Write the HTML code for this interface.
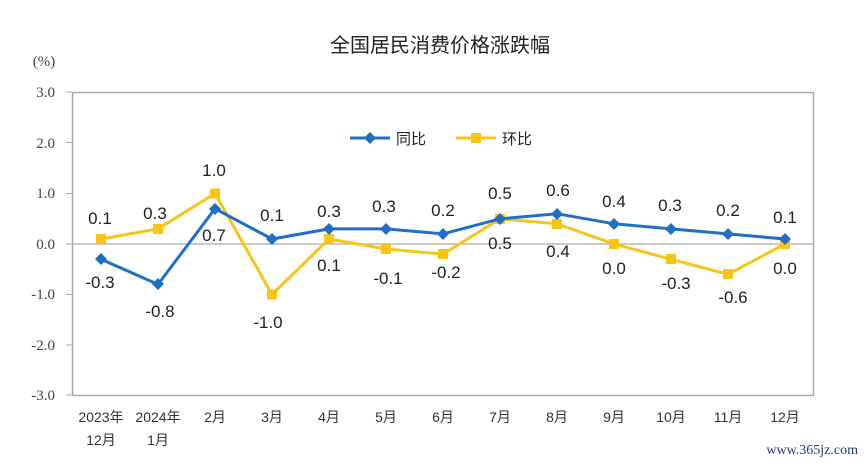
<!DOCTYPE html><html><head><meta charset="utf-8"><style>body{margin:0;background:#fff}svg{display:block}</style></head><body>
<svg width="864" height="466" xmlns="http://www.w3.org/2000/svg" font-family="Liberation Sans, Noto Sans CJK SC, sans-serif">
<text x="440" y="52" font-size="20" text-anchor="middle" fill="#222">全国居民消费价格涨跌幅</text>
<text x="44" y="66" font-size="15" font-family="Liberation Serif, serif" fill="#444" text-anchor="middle">(%)</text>
<g font-family="Liberation Serif, serif" font-size="15" fill="#444" text-anchor="end">
<text x="55" y="97">3.0</text><text x="55" y="148">2.0</text><text x="55" y="198">1.0</text><text x="55" y="249">0.0</text><text x="55" y="299">-1.0</text><text x="55" y="350">-2.0</text><text x="55" y="400">-3.0</text></g>
<g stroke="#aaa" stroke-width="1"><line x1="66" y1="92" x2="72" y2="92"/><line x1="66" y1="142.5" x2="72" y2="142.5"/><line x1="66" y1="193.5" x2="72" y2="193.5"/><line x1="66" y1="244" x2="72" y2="244"/><line x1="66" y1="294.5" x2="72" y2="294.5"/><line x1="66" y1="345" x2="72" y2="345"/><line x1="66" y1="395" x2="72" y2="395"/></g>
<rect x="72.5" y="92.5" width="741" height="303" fill="none" stroke="#aaa" stroke-width="1.5"/>
<line x1="72" y1="244" x2="813" y2="244" stroke="#aaa" stroke-width="1.2"/>
<g fill="#333" font-size="14" text-anchor="middle">
<text x="101" y="422">2023年</text><text x="101" y="445">12月</text><text x="158" y="422">2024年</text><text x="158" y="445">1月</text>
<text x="215" y="422">2月</text><text x="272" y="422">3月</text><text x="329" y="422">4月</text><text x="386" y="422">5月</text><text x="443" y="422">6月</text><text x="500" y="422">7月</text><text x="557" y="422">8月</text><text x="614" y="422">9月</text><text x="671" y="422">10月</text><text x="728" y="422">11月</text><text x="785" y="422">12月</text></g>
<polyline fill="none" stroke="#f5c518" stroke-width="3" points="101,239 158,228.9 215,193.5 272,294.5 329,239 386,249 443,254.1 500,218.8 557,223.8 614,244 671,259.2 728,274.3 785,244"/>
<g fill="#f5c518"><rect x="96" y="234" width="10" height="10"/><rect x="153" y="224" width="10" height="10"/><rect x="210" y="188.5" width="10" height="10"/><rect x="267" y="289.5" width="10" height="10"/><rect x="324" y="234" width="10" height="10"/><rect x="381" y="244" width="10" height="10"/><rect x="438" y="249" width="10" height="10"/><rect x="495" y="214" width="10" height="10"/><rect x="552" y="219" width="10" height="10"/><rect x="609" y="239" width="10" height="10"/><rect x="666" y="254" width="10" height="10"/><rect x="723" y="269" width="10" height="10"/><rect x="780" y="239" width="10" height="10"/></g>
<polyline fill="none" stroke="#1f6fc5" stroke-width="3" points="101,259.2 158,284.4 215,208.7 272,239 329,228.9 386,228.9 443,233.9 500,218.8 557,213.7 614,223.8 671,228.9 728,233.9 785,239"/>
<g fill="#1f6fc5">
<path d="M101,253 l6,6 -6,6 -6,-6z"/><path d="M158,278 l6,6 -6,6 -6,-6z"/><path d="M215,203 l6,6 -6,6 -6,-6z"/><path d="M272,233 l6,6 -6,6 -6,-6z"/><path d="M329,223 l6,6 -6,6 -6,-6z"/><path d="M386,223 l6,6 -6,6 -6,-6z"/><path d="M443,228 l6,6 -6,6 -6,-6z"/><path d="M500,213 l6,6 -6,6 -6,-6z"/><path d="M557,208 l6,6 -6,6 -6,-6z"/><path d="M614,218 l6,6 -6,6 -6,-6z"/><path d="M671,223 l6,6 -6,6 -6,-6z"/><path d="M728,228 l6,6 -6,6 -6,-6z"/><path d="M785,233 l6,6 -6,6 -6,-6z"/></g>
<line x1="350" y1="138" x2="390" y2="138" stroke="#1f6fc5" stroke-width="3"/><path d="M370,132 l6,6 -6,6 -6,-6z" fill="#1f6fc5"/>
<text x="396" y="144" font-size="15" fill="#222">同比</text>
<line x1="456" y1="138" x2="496" y2="138" stroke="#f5c518" stroke-width="3"/><rect x="471" y="133" width="10" height="10" fill="#f5c518"/>
<text x="502" y="144" font-size="15" fill="#222">环比</text>
<g font-size="17" fill="#222" text-anchor="middle">
<text x="100" y="224">0.1</text><text x="155" y="219">0.3</text><text x="214" y="176">1.0</text><text x="214" y="241">0.7</text><text x="100" y="288">-0.3</text><text x="160" y="317">-0.8</text><text x="272" y="221">0.1</text><text x="268" y="328">-1.0</text><text x="329" y="217">0.3</text><text x="329" y="271">0.1</text><text x="384" y="212">0.3</text><text x="388" y="284">-0.1</text><text x="443" y="216">0.2</text><text x="446" y="278">-0.2</text><text x="500" y="199">0.5</text><text x="500" y="249">0.5</text><text x="558" y="196">0.6</text><text x="558" y="257">0.4</text><text x="614" y="207">0.4</text><text x="614" y="274">0.0</text><text x="670" y="211">0.3</text><text x="676" y="289">-0.3</text><text x="728" y="216">0.2</text><text x="733" y="303">-0.6</text><text x="785" y="223">0.1</text><text x="785" y="274">0.0</text></g>
<text x="858" y="454" font-size="14" fill="#1a3d7c" text-anchor="end" font-family="Liberation Serif, serif">www.365jz.com</text>
</svg></body></html>
